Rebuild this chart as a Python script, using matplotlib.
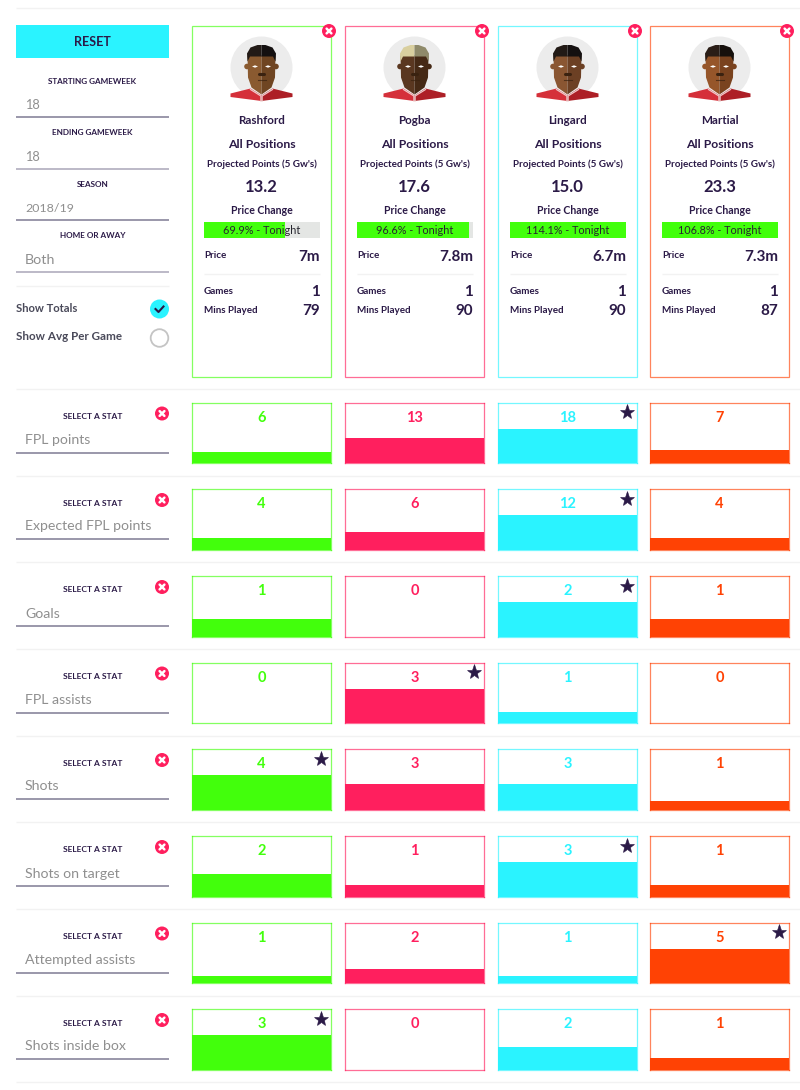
import matplotlib
matplotlib.use('Agg')
import matplotlib.pyplot as plt
from matplotlib.patches import Rectangle, Circle, Polygon

plt.rcParams['font.family'] = ['Lato', 'DejaVu Sans']

GREEN, PINK, CYAN, ORANGE = '#42ff0c', '#ff1f5e', '#2af3ff', '#ff4204'
DARK = '#2b1a47'
GREY = '#8f8f8f'
RULE = '#f2f2f2'

players = ['Rashford', 'Pogba', 'Lingard', 'Martial']
colors = [GREEN, PINK, CYAN, ORANGE]
projected = ['13.2', '17.6', '15.0', '23.3']
price_pct = [69.9, 96.6, 114.1, 106.8]
prices = ['7m', '7.8m', '6.7m', '7.3m']
games = [1, 1, 1, 1]
mins_played = [79, 90, 90, 87]
skin = [('#8a5a30', '#6f4522'), ('#5a3720', '#452915'), ('#8a5632', '#6c4024'), ('#96562a', '#7a431f')]
hair = [('#221a16', '#141010'), ('#d9cf9f', '#8f8a6a'), ('#221a16', '#141010'), ('#2a1d16', '#16100c')]

filter_labels = ['STARTING GAMEWEEK', 'ENDING GAMEWEEK', 'SEASON', 'HOME OR AWAY']
filter_values = ['18', '18', '2018/19', 'Both']
filter_sizes = [9.2, 9.2, 8.9, 10.3]

stats = ['FPL points', 'Expected FPL points', 'Goals', 'FPL assists',
         'Shots', 'Shots on target', 'Attempted assists', 'Shots inside box']
rashford = [6, 4, 1, 0, 4, 2, 1, 3]
pogba = [13, 6, 0, 3, 3, 1, 2, 0]
lingard = [18, 12, 2, 1, 3, 3, 1, 2]
martial = [7, 4, 1, 0, 1, 1, 5, 1]
series = [rashford, pogba, lingard, martial]

W, H = 800, 1090
fig = plt.figure(figsize=(W / 100, H / 100), dpi=100, facecolor='white')
page = fig.add_axes([0, 0, 1, 1])
page.set_xlim(0, W)
page.set_ylim(H, 0)
page.axis('off')

col_x = [192, 345, 498, 650]
col_w = 139
row_y = [402.5, 489, 576, 662.5, 749, 836, 922.5, 1009]
row_h = 60.5
bar_share = 0.57


def text(x, y, s, size, color=DARK, ha='center', weight='normal'):
    page.text(x, y, s, fontsize=size, color=color, ha=ha, va='center', fontweight=weight)


def hline(x0, x1, y, color=RULE, lw=1.0):
    page.plot([x0, x1], [y, y], color=color, lw=lw, solid_capstyle='butt')


def close_button(x, y, r=7):
    page.add_patch(Circle((x, y), r, fc=PINK, ec='none', zorder=6))
    d = r * 0.34
    page.plot([x - d, x + d], [y - d, y + d], color='white', lw=1.8, zorder=7, solid_capstyle='round')
    page.plot([x - d, x + d], [y + d, y - d], color='white', lw=1.8, zorder=7, solid_capstyle='round')


def shape(cx, cy, pts, color, z):
    page.add_patch(Polygon([(cx + a, cy + b) for a, b in pts], fc=color, ec='none', zorder=z))


def face(cx, cy, i):
    light, dark = skin[i]
    page.add_patch(Circle((cx, cy), 31, fc='#ececec', ec='none'))
    # ears
    page.add_patch(Circle((cx - 14.5, cy - 1), 2.8, fc=light, ec='none', zorder=2))
    page.add_patch(Circle((cx + 14.5, cy - 1), 2.8, fc=dark, ec='none', zorder=2))
    # jersey
    shape(cx, cy, [(-31, 26), (-11, 21), (0, 28), (0, 33.5), (-31, 29.5)], '#d5303a', 2)
    shape(cx, cy, [(31, 26), (11, 21), (0, 28), (0, 33.5), (31, 29.5)], '#ad1f26', 2)
    # head
    shape(cx, cy, [(-14, -12), (0, -12), (0, 27), (-10, 20), (-13.5, 10)], light, 3)
    shape(cx, cy, [(14, -12), (0, -12), (0, 27), (10, 20), (13.5, 10)], dark, 3)
    # collar
    page.plot([cx - 11, cx - 0.6, cx - 0.6], [cy + 22, cy + 28.5, cy + 33.5], color='#efc7c7', lw=0.9, zorder=4)
    page.plot([cx + 11, cx + 0.6, cx + 0.6], [cy + 22, cy + 28.5, cy + 33.5], color='#efc7c7', lw=0.9, zorder=4)
    # hair
    shape(cx, cy, [(-14, -6), (-14.5, -14), (-11, -20), (-4, -22.5), (0, -22.5), (0, -11), (-11.5, -11)], hair[i][0], 4)
    shape(cx, cy, [(14, -6), (14.5, -14), (11, -20), (4, -22.5), (0, -22.5), (0, -11), (11.5, -11)], hair[i][1], 4)
    # eyes, nose, mouth
    for dx in (-6.5, 6.5):
        shape(cx + dx, cy, [(-3, -1), (0, -2.2), (3, -1), (0, 0.2)], 'white', 5)
    page.plot([cx - 2.5, cx + 2.5], [cy + 6, cy + 6], color='#3a2210', lw=2.2, zorder=5, solid_capstyle='round')
    page.plot([cx - 4, cx + 4], [cy + 12, cy + 12], color='#3a2210', lw=0.8, alpha=0.7, zorder=5)


# page rules
for y in [8, 389, 476, 562, 649, 735.5, 822, 909, 995.5, 1082]:
    hline(16, 800, y)

# filter panel
page.add_patch(Rectangle((16, 25), 153, 33, fc=CYAN, ec='none'))
text(92.5, 42.5, 'RESET', 9.0, weight='bold')
for k, (lab, val) in enumerate(zip(filter_labels, filter_values)):
    y0 = 81 + k * 51.6
    text(92.5, y0, lab, 5.9, weight='bold')
    text(25, y0 + 24, val, filter_sizes[k], GREY, ha='left')
    hline(16, 169, y0 + 36, '#7f7a93' if k % 2 == 0 else '#aaa6b8', 1.1)
hline(16, 169, 285.5)
text(16, 308, 'Show Totals', 8.1, '#4a4a5a', ha='left', weight='bold')
text(16, 336.5, 'Show Avg Per Game', 8.4, '#4a4a5a', ha='left', weight='bold')
page.add_patch(Circle((159.5, 309), 9.5, fc=CYAN, ec='none'))
page.plot([155.5, 158.5, 163.5], [309, 312, 306.5], color=DARK, lw=1.5)
page.add_patch(Circle((159.5, 338), 8.8, fc='white', ec='#c4c4c4', lw=1.3))

# player cards
for i, name in enumerate(players):
    x0 = col_x[i]
    cx = x0 + col_w / 2
    page.add_patch(Rectangle((x0, 25.5), col_w, 351, fc='white', ec=colors[i], lw=0.9, alpha=0.65))
    close_button(x0 + 137, 31)
    face(cx, 67.5, i)
    text(cx, 120.5, name, 8.4, weight='bold')
    text(cx, 144, 'All Positions', 8.8, weight='bold')
    text(cx, 164, "Projected Points (5 Gw's)", 7.1, weight='bold')
    text(cx, 186.5, projected[i], 12, weight='bold')
    text(cx, 210, 'Price Change', 7.6, weight='bold')
    bx, bw = x0 + 12, 116
    page.add_patch(Rectangle((bx, 222), bw, 15.5, fc='#e4e6e4', ec='none'))
    page.add_patch(Rectangle((bx, 222), bw * min(price_pct[i], 100) / 100, 15.5, fc=GREEN, ec='none'))
    text(cx, 230, f'{price_pct[i]}% - Tonight', 7.8, '#26262e')
    text(bx, 256, 'Price', 7.1, ha='left', weight='bold')
    text(bx + bw, 257, prices[i], 11, ha='right', weight='bold')
    hline(bx, bx + bw, 273.5)
    text(bx, 292, 'Games', 7.1, ha='left', weight='bold')
    text(bx + bw, 292.5, str(games[i]), 11, ha='right', weight='bold')
    text(bx, 310.5, 'Mins Played', 7.1, ha='left', weight='bold')
    text(bx + bw, 311, str(mins_played[i]), 11, ha='right', weight='bold')

# stat rows
for r, stat in enumerate(stats):
    y = row_y[r]
    text(92.5, y + 14, 'SELECT A STAT', 6.0, weight='bold')
    text(25, y + 37.5, stat, 10.2, GREY, ha='left')
    hline(16, 169, y + 50, '#7f7a93', 1.1)
    close_button(162, y + 11)
    vals = [s[r] for s in series]
    top = max(vals)
    for i, vals_col in enumerate(series):
        v = vals_col[r]
        ax = fig.add_axes([col_x[i] / W, 1 - (y + row_h) / H, col_w / W, row_h / H])
        ax.set_xlim(0, 1)
        ax.set_ylim(0, top / bar_share)
        ax.bar([0.5], [v], width=1, color=colors[i], linewidth=0)
        ax.set_xticks([])
        ax.set_yticks([])
        for sp in ax.spines.values():
            sp.set_color(colors[i])
            sp.set_linewidth(0.9)
            sp.set_alpha(0.65)
        ax.text(0.5, 0.75, str(v), transform=ax.transAxes, ha='center', va='center',
                fontsize=10.5, color=colors[i], fontweight='bold', zorder=5)
        if v == top:
            ax.plot([0.928], [0.84], marker='*', ms=11, color=DARK, mew=0.4, mec=DARK,
                    transform=ax.transAxes, zorder=6, clip_on=False)

fig.savefig('out.png', dpi=100, facecolor='white')
